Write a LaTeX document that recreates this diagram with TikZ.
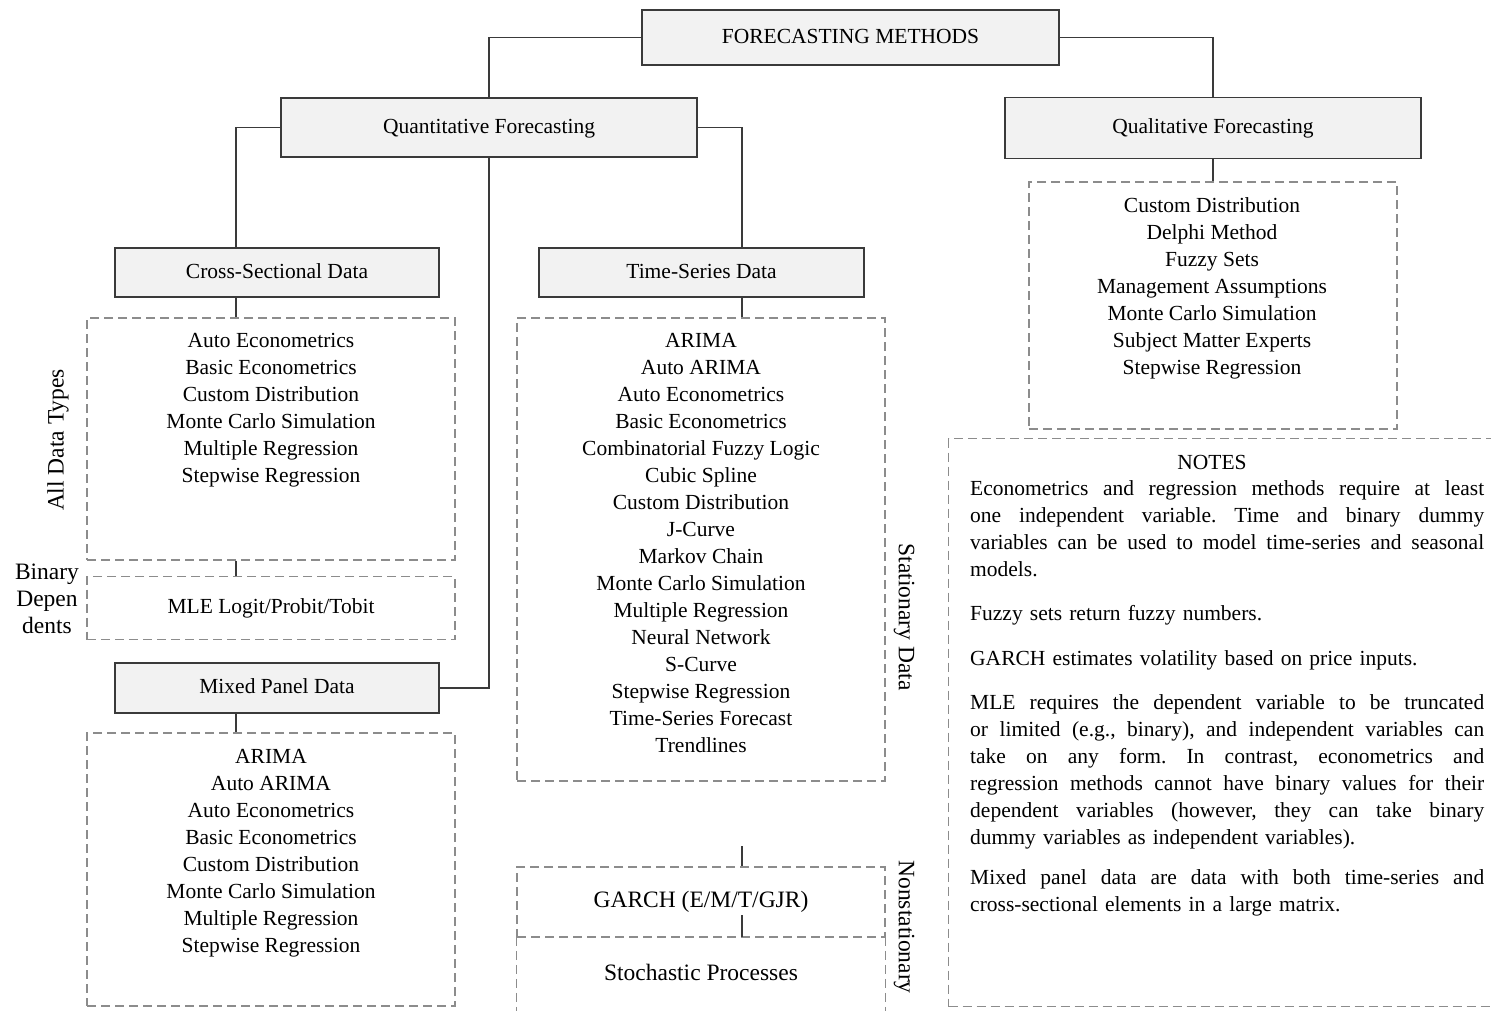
\documentclass[tikz,border=0pt]{standalone}
\usepackage{fontspec}
\setmainfont{Liberation Serif}
\definecolor{boxfill}{HTML}{F2F2F2}
\definecolor{boxline}{HTML}{3A3A3A}
\definecolor{dashcol}{HTML}{8C8C8C}
\newcommand\jl[1]{{\frenchspacing\spaceskip=0pt\xspaceskip=0pt\makebox[514pt][s]{#1}}}
\begin{document}
\frenchspacing
\begin{tikzpicture}[x=1pt,y=-1pt,
  mainfont/.style={font=\fontsize{21.5}{27}\selectfont},
  tfont/.style={font=\fontsize{23.5}{27}\selectfont},
  sbox/.style={draw=boxline, fill=boxfill, line width=1.3pt, mainfont, inner sep=0pt,
    text height=15pt, text depth=4pt},
  dsh/.style={draw=dashcol, line width=1.2pt, dash pattern=on 9pt off 5pt},
  dbox/.style={dsh, inner sep=0pt},
  lst/.style={align=center, inner sep=0pt, mainfont, anchor=north},
  conn/.style={draw=boxline, line width=1.3pt},
  notepar/.style={align=left, text width=514pt, inner sep=0pt, mainfont, anchor=north west},
]
\useasboundingbox (0,0) rectangle (1491,1010);
\coordinate (lx) at (236,0);
\coordinate (rx) at (742,0);

% solid boxes
\node[sbox, minimum width=417pt, minimum height=55pt] (fm) at (850.5,37.5) {FORECASTING METHODS};
\node[sbox, minimum width=416pt, minimum height=59pt] (quant) at (489,127.5) {Quantitative Forecasting};
\node[sbox, minimum width=416pt, minimum height=61pt] (qual) at (1213,128) {Qualitative Forecasting};
\node[sbox, minimum width=324pt, minimum height=49pt] (cross) at (277,272.5) {Cross-Sectional Data};
\node[sbox, minimum width=325pt, minimum height=49pt] (ts) at (701.5,272.5) {Time-Series Data};
\node[sbox, minimum width=324pt, minimum height=50pt] (mixed) at (277,688) {Mixed Panel Data};

% dashed boxes
\node[dbox, minimum width=368pt, minimum height=247pt] (quald) at (1213,305.5) {};
\node[dbox, minimum width=368pt, minimum height=242pt] (crossd) at (271,439) {};
\node[dbox, minimum width=368pt, minimum height=63pt, mainfont, text height=15pt, text depth=4pt] (mled) at (271,608) {MLE Logit/Probit/Tobit};
\node[dbox, minimum width=368pt, minimum height=273pt] (mixedd) at (271,869.5) {};
\node[dbox, minimum width=368pt, minimum height=463pt] (tsd) at (701,549.5) {};
\node[dbox, minimum width=368pt, minimum height=70pt, tfont, text height=16pt, text depth=5pt] (garch) at (701,902) {GARCH (E/M/T/GJR)};
\node[minimum width=368pt, minimum height=76pt, inner sep=0pt, tfont, text height=16pt, text depth=5pt] (stoch) at (701,975) {Stochastic Processes};
\draw[dsh] (stoch.north west) -- (stoch.south west);
\draw[dsh] (stoch.north east) -- (stoch.south east);
\node[dbox, minimum width=570pt, minimum height=568pt, anchor=north west] (notes) at (948,438) {};

% lists
\node[lst] (qualtxt) at (1212,193) {\strut Custom Distribution\\Delphi Method\\Fuzzy Sets\\Management Assumptions\\Monte Carlo Simulation\\Subject Matter Experts\\Stepwise Regression};
\node[lst] (crosstxt) at (271,328) {\strut Auto Econometrics\\Basic Econometrics\\Custom Distribution\\Monte Carlo Simulation\\Multiple Regression\\Stepwise Regression};
\node[lst] (mixedtxt) at (271,744) {\strut ARIMA\\Auto ARIMA\\Auto Econometrics\\Basic Econometrics\\Custom Distribution\\Monte Carlo Simulation\\Multiple Regression\\Stepwise Regression};
\node[lst] (tstxt) at (701,328) {\strut ARIMA\\Auto ARIMA\\Auto Econometrics\\Basic Econometrics\\Combinatorial Fuzzy Logic\\Cubic Spline\\Custom Distribution\\J-Curve\\Markov Chain\\Monte Carlo Simulation\\Multiple Regression\\Neural Network\\S-Curve\\Stepwise Regression\\Time-Series Forecast\\Trendlines};

% side labels
\node[align=center, inner sep=0pt, tfont, anchor=north] (binlab) at (47,560) {\strut Binary\\Depen\\dents};
\node[tfont, inner sep=0pt, rotate=90] (alllab) at (58,440) {All Data Types};
\node[tfont, inner sep=0pt, rotate=-90] (statlab) at (904,617) {Stationary Data};
\node[tfont, inner sep=0pt, rotate=-90] (nonstatlab) at (904,927) {Nonstationary};

% notes
\node[mainfont, inner sep=0pt] (notesh) at (1212,462) {NOTES};
\node[notepar] (n1) at (970,476) {\strut\jl{Econometrics and regression methods require at least}\\\jl{one independent variable. Time and binary dummy}\\\jl{variables can be used to model time-series and seasonal}\\models.};
\node[notepar] (n2) at (970,601) {\strut Fuzzy sets return fuzzy numbers.};
\node[notepar] (n3) at (970,646) {\strut GARCH estimates volatility based on price inputs.};
\node[notepar] (n4) at (970,690) {\strut\jl{MLE requires the dependent variable to be truncated}\\\jl{or limited (e.g., binary), and independent variables can}\\\jl{take on any form. In contrast, econometrics and}\\\jl{regression methods cannot have binary values for their}\\\jl{dependent variables (however, they can take binary}\\dummy variables as independent variables).};
\node[notepar] (n5) at (970,865) {\strut\jl{Mixed panel data are data with both time-series and}\\cross-sectional elements in a large matrix.};

% connectors
\coordinate (ntop) at (742,846);
\coordinate (gmid) at (742,915);
\draw[conn] (fm.west) -| (quant.north);
\draw[conn] (fm.east) -| (qual.north);
\draw[conn] (quant.west) -| (cross.north -| lx);
\draw[conn] (quant.east) -| (ts.north -| rx);
\draw[conn] (quant.south) |- (mixed.east);
\draw[conn] (cross.south -| lx) -- (crossd.north -| lx);
\draw[conn] (crossd.south -| lx) -- (mled.north -| lx);
\draw[conn] (mixed.south -| lx) -- (mixedd.north -| lx);
\draw[conn] (ts.south -| rx) -- (tsd.north -| rx);
\draw[conn] (qual.south) -- (quald.north);
\draw[conn] (ntop) -- (garch.north -| rx);
\draw[conn] (gmid) -- (stoch.north -| rx);
\end{tikzpicture}
\end{document}
